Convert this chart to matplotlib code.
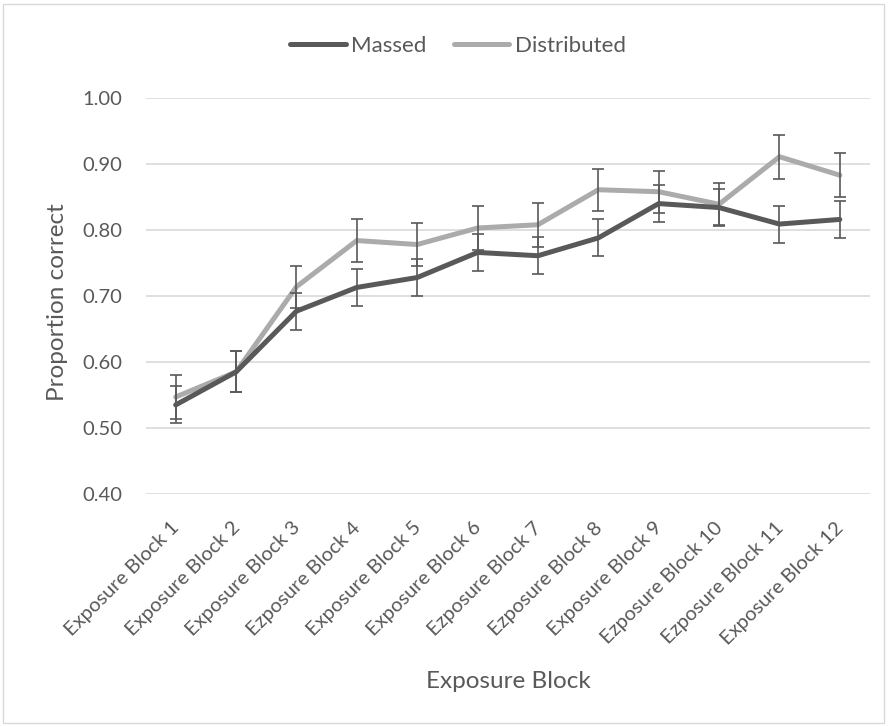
import matplotlib
matplotlib.use("Agg")
import matplotlib.pyplot as plt
from matplotlib.patches import Rectangle
from matplotlib.transforms import ScaledTranslation

categories = ["Exposure Block 1", "Exposure Block 2", "Exposure Block 3", "Ezposure Block 4",
              "Exposure Block 5", "Exposure Block 6", "Ezposure Block 7", "Ezposure Block 8",
              "Exposure Block 9", "Ezposure Block 10", "Ezposure Block 11", "Exposure Block 12"]
massed = [0.535, 0.585, 0.677, 0.713, 0.728, 0.766, 0.761, 0.788, 0.840, 0.834, 0.809, 0.816]
massed_err = [0.028, 0.031, 0.028, 0.028, 0.028, 0.028, 0.028, 0.028, 0.028, 0.028, 0.028, 0.028]
distributed = [0.547, 0.585, 0.714, 0.784, 0.778, 0.803, 0.808, 0.861, 0.858, 0.839, 0.911, 0.883]
distributed_err = [0.033, 0.031, 0.032, 0.033, 0.033, 0.033, 0.033, 0.032, 0.032, 0.032, 0.033, 0.033]
yticks = [0.40, 0.50, 0.60, 0.70, 0.80, 0.90, 1.00]

plt.rcParams['font.family'] = ['Lato', 'DejaVu Sans']
txt = '#595959'
c_massed = '#595959'
c_dist = '#ABABAB'

fig = plt.figure(figsize=(8.88, 7.27), dpi=100)
ax = fig.add_axes([145.5 / 888, 1 - 494 / 727, (870 - 145.5) / 888, (494 - 98) / 727])

x = list(range(len(categories)))
ax.plot(x, distributed, color=c_dist, lw=3.6, solid_capstyle='round', solid_joinstyle='round',
        zorder=3, label='Distributed')
ax.plot(x, massed, color=c_massed, lw=3.6, solid_capstyle='round', solid_joinstyle='round',
        zorder=4, label='Massed')
ax.errorbar(x, distributed, yerr=distributed_err, fmt='none', ecolor=c_massed, elinewidth=1.2,
            capsize=4.5, capthick=1.2, zorder=5)
ax.errorbar(x, massed, yerr=massed_err, fmt='none', ecolor=c_massed, elinewidth=1.2,
            capsize=4.5, capthick=1.2, zorder=5)

ax.set_xlim(-0.5, len(categories) - 0.5)
ax.set_ylim(0.40, 1.00)
ax.set_yticks(yticks)
ax.set_yticklabels([f"{v:.2f}" for v in yticks])
ax.set_xticks(x)
ax.set_xticklabels(categories, rotation=45, ha='right', va='top', rotation_mode='anchor')
ax.tick_params(axis='both', length=0, colors=txt, labelsize=14.5)
ax.tick_params(axis='x', pad=18)
ax.tick_params(axis='y', pad=17)
shift = ScaledTranslation(-5 / 100, 0, fig.dpi_scale_trans)
for lab in ax.get_xticklabels():
    lab.set_transform(lab.get_transform() + shift)
for s in ax.spines.values():
    s.set_visible(False)
ax.grid(axis='y', color='#D9D9D9', lw=1.2)
ax.set_axisbelow(True)

fig.text(508 / 888, 1 - 681 / 727, 'Exposure Block', color=txt, fontsize=17.5,
         ha='center', va='center')
fig.text(57 / 888, 1 - 302 / 727, 'Proportion correct', color=txt, fontsize=17.5,
         ha='center', va='center', rotation=90)

handles, labels = ax.get_legend_handles_labels()
leg = fig.legend(handles[::-1], labels[::-1], loc='center', bbox_to_anchor=(458 / 888, 1 - 46 / 727),
                 ncol=2, frameon=False, fontsize=16, handlelength=2.5, handletextpad=0.25,
                 columnspacing=1.2, labelcolor=txt, borderpad=0)

fig.patches.append(Rectangle((3 / 888, 4 / 727), 881 / 888, 719 / 727, transform=fig.transFigure,
                             fill=False, edgecolor='#D9D9D9', lw=1.0))

fig.savefig('out.png', dpi=100)
